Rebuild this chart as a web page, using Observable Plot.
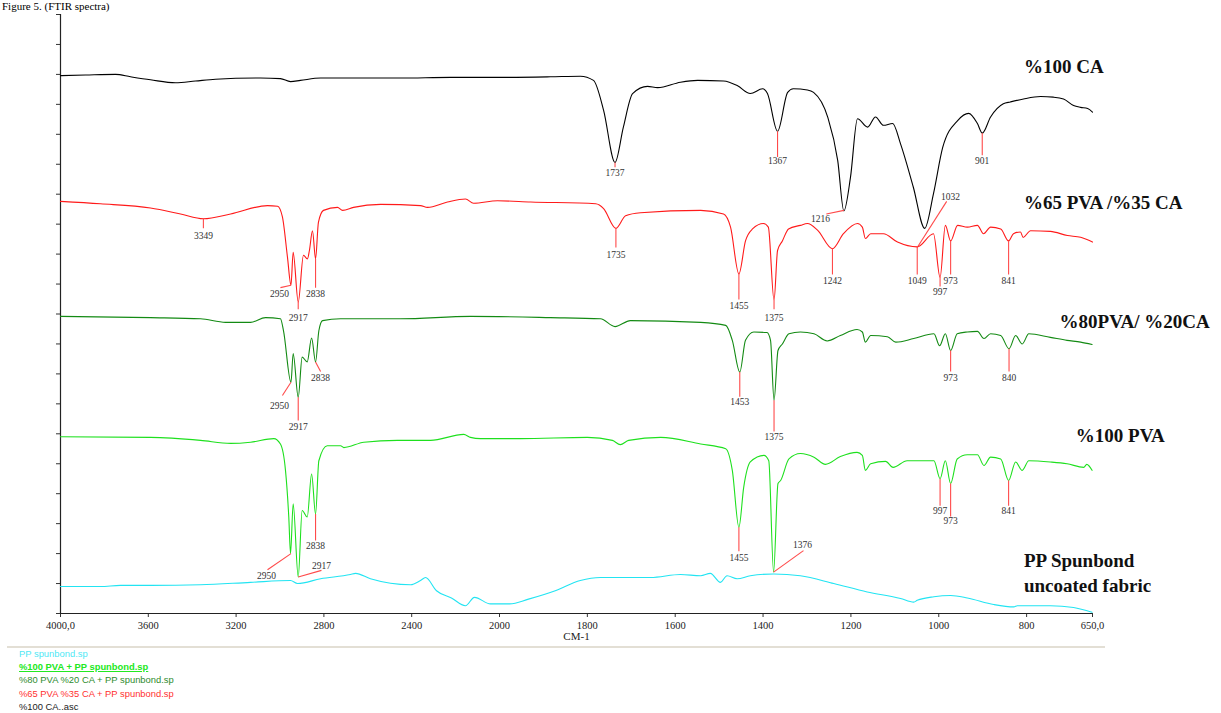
<!DOCTYPE html>
<html>
<head>
<meta charset="utf-8">
<script src="https://cdn.jsdelivr.net/npm/d3@7"></script>
<script src="https://cdn.jsdelivr.net/npm/@observablehq/plot@0.6"></script>
<style>
  html, body { margin: 0; padding: 0; background: #ffffff; }
  #wrap { position: relative; width: 1221px; height: 713px; overflow: hidden; background: #fff; }
  #chart { position: absolute; left: 0; top: 0; }
  #title { position: absolute; left: 2px; top: 0px; font-family: "Liberation Serif", serif; font-size: 11px; line-height: 12px; color: #000; white-space: nowrap; }
  #legendRule { position: absolute; left: 7px; top: 646px; width: 1098px; height: 2px; background: #e3dfd5; }
  #legend { position: absolute; left: 19px; top: 647px; font-family: "Liberation Sans", Arial, sans-serif; font-size: 9.4px; line-height: 13.2px; }
</style>
</head>
<body>
<div id="wrap">
  <div id="chart"></div>
  <div id="title">Figure 5. (FTIR spectra)</div>
  <div id="legendRule"></div>
  <div id="legend"></div>
</div>
<script>
// ---- Spectra (wavenumber cm-1, offset transmittance) ----
const caWn = [4000,3886,3749,3681,3590,3476,3385,3294,3089,2998,2952,2907,2815,2451,2223,2000,1884,1816,1786,1763,1737,1718,1697,1663,1640,1588,1549,1490,1458,1429,1401,1390,1367,1344,1331,1299,1285,1253,1230,1216,1201,1185,1162,1144,1126,1105,1087,1058,1032,1012,991,957,932,912,901,882,853,837,807,768,739,716,693,677,661,650];
const caT = [89.8,89.9,90.0,89.6,89.1,88.6,88.9,89.2,89.4,89.3,88.8,89.0,89.4,89.4,89.5,89.5,89.6,89.7,89.0,84.0,75.3,81.2,86.8,88.0,87.8,88.7,89.0,88.9,88.1,86.8,87.6,86.8,80.5,87.0,87.6,87.4,87.0,82.9,75.6,67.2,72.8,82.6,81.2,82.9,81.5,81.8,78.4,71.2,64.3,70.1,77.8,82.3,83.5,81.8,80.2,82.9,85.1,85.4,85.9,86.3,86.2,85.9,84.8,84.5,84.3,83.7];

const pva65Wn = [4000,3818,3590,3453,3349,3225,3057,3011,2989,2966,2950,2940,2917,2893,2875,2866,2852,2838,2825,2802,2738,2715,2665,2542,2360,2328,2237,2155,2118,2009,1929,1781,1763,1735,1713,1679,1542,1490,1474,1455,1440,1424,1399,1388,1375,1367,1356,1342,1315,1299,1276,1242,1217,1185,1174,1167,1155,1126,1094,1049,1012,997,985,973,957,935,912,898,882,859,841,830,814,808,791,746,707,677,650];
const pva65T = [68.8,68.4,67.7,66.7,65.9,66.7,68.1,68.0,66.2,59.5,54.8,60.3,52.0,59.8,59.2,60.6,63.9,59.2,65.3,67.3,67.8,67.3,67.8,68.3,68.1,67.8,68.7,69.2,68.5,68.9,68.7,68.4,67.6,64.3,66.4,66.9,67.3,66.7,64.5,56.7,62.2,64.2,65.1,64.5,52.3,60.6,62.2,64.2,64.8,65.1,64.0,60.9,63.4,65.1,64.5,62.6,63.4,63.4,62.0,61.2,63.4,56.1,64.8,62.2,64.8,64.5,64.8,63.4,64.5,64.2,62.2,63.4,63.7,62.8,63.9,63.8,63.1,62.8,62.0];

const pva80Wn = [4000,3590,3362,3248,3134,3066,2998,2984,2950,2940,2917,2899,2876,2856,2838,2823,2806,2724,2451,2132,1884,1770,1737,1702,1542,1485,1470,1453,1440,1421,1391,1383,1375,1366,1356,1341,1315,1284,1254,1224,1186,1174,1167,1155,1117,1098,1057,1011,998,985,973,958,935,912,897,882,859,840,825,810,795,746,708,677,651];
const pva80T = [49.6,49.4,49.2,48.6,48.6,49.4,49.2,47.2,38.6,43.4,36.1,42.8,42.0,46.0,42.0,47.2,48.9,49.2,49.2,49.6,49.4,49.2,47.9,48.9,48.6,48.1,45.6,40.3,45.6,47.0,46.9,45.6,35.6,43.9,45.0,46.7,47.0,46.7,45.5,46.4,47.4,47.0,45.3,46.4,46.2,45.3,45.9,46.7,44.7,46.7,43.9,46.7,47.0,47.1,45.9,46.7,46.4,44.2,46.4,45.0,46.7,46.1,45.6,45.3,44.9];

const pvaWn = [4000,3590,3362,3225,3134,3028,2998,2975,2960,2952,2940,2917,2899,2876,2856,2838,2823,2785,2724,2709,2618,2466,2314,2163,2132,2087,1952,1800,1743,1725,1706,1633,1542,1485,1470,1455,1444,1429,1398,1387,1376,1366,1360,1341,1315,1284,1258,1224,1186,1174,1167,1155,1121,1104,1072,1011,997,985,973,958,935,912,897,882,859,841,825,810,795,746,708,670,663,651];
const pvaT = [29.5,29.4,28.9,28.4,28.6,29.2,28.3,23.9,16.1,10.0,18.3,6.1,17.2,16.1,23.3,16.6,25.5,28.0,28.0,27.7,28.6,28.9,28.9,29.9,29.4,29.2,29.2,29.4,28.9,28.2,28.9,29.4,28.3,27.5,23.9,14.4,21.1,25.3,26.4,25.5,6.9,21.7,22.2,25.8,26.7,26.1,24.9,26.2,26.9,26.4,23.9,25.0,25.4,24.4,25.5,25.5,22.5,25.5,21.7,25.8,26.5,26.5,24.7,26.1,25.8,22.2,25.3,23.9,25.5,25.3,25.0,24.4,24.9,23.9];

const ppWn = [4000,3818,3727,3590,3362,3134,2952,2920,2815,2679,2656,2588,2405,2360,2337,2287,2219,2155,2114,2041,1977,1934,1873,1816,1770,1656,1588,1542,1520,1497,1482,1459,1429,1376,1315,1239,1163,1087,1057,1049,1011,973,935,875,829,821,746,693,651];
const ppT = [4.5,4.5,4.7,4.7,4.8,5.2,5.5,5.0,5.8,6.5,6.7,5.8,4.8,5.5,6.0,3.8,2.6,1.3,2.7,1.6,1.6,2.4,3.8,5.5,6.0,6.0,6.5,6.3,6.7,5.2,6.3,5.8,6.3,6.6,6.3,5.0,3.6,2.5,1.9,2.2,2.8,3.0,2.6,1.5,1.1,1.3,1.3,1.0,0.2];

// ---- Series names / colours ----
const seriesKeys = ["ca", "pva65", "pva80", "pva", "pp"];
const seriesColors = ["#000000", "#ff1a1a", "#138a13", "#1ee01e", "#22e4f2"];
const seriesTitles = ["%100 CA", "%65 PVA /%35 CA", "%80PVA/ %20CA", "%100 PVA", "PP Spunbond", "uncoated fabric"];
const titleX = [806, 806, 725, 688, 806, 806];
const titleY = [91.3, 68.5, 48.6, 29.7, 8.8, 4.6];

// ---- Legend (file names) ----
const legendNames = ["PP spunbond.sp", "%100 PVA + PP spunbond.sp", "%80 PVA %20 CA + PP spunbond.sp", "%65 PVA  %35 CA + PP spunbond.sp", "%100 CA..asc"];
const legendColors = ["#4fe8f5", "#22e822", "#2e8b2e", "#ff3030", "#222222"];

// ---- Axis ticks ----
const xTicks = [4000, 3600, 3200, 2800, 2400, 2000, 1800, 1600, 1400, 1200, 1000, 800, 650];
const yTicks = d3.range(0, 101, 5);

// ---- Peak annotations: label, leader start (x1,y1), leader end (x2,y2), text (tx,ty) ----
const peakLabel = ["1737","1367","1216","1032","901",
  "3349","2950","2917","2838","1735","1455","1375","1242","1049","997","973","841",
  "2950","2917","2838","1453","1375","973","840",
  "2950","2917","2838","1455","1376","997","973","841"];
const peakX1 = [1737,1367,1216,1049,901, 3349,2950,2917,2838,1735,1455,1375,1242,1049,997,973,841, 2950,2917,2838,1453,1375,973,840, 2950,2917,2838,1455,1376,997,973,841];
const peakY1 = [75.3,80.5,67.3,61.1,80.2, 65.9,54.8,52.0,59.2,64.3,56.7,52.3,60.9,61.2,56.1,62.2,62.2, 38.6,36.1,42.0,40.3,35.6,43.9,44.2, 10.0,6.1,16.6,14.4,6.9,22.5,21.7,22.2];
const peakX2 = [1737,1367,1256,982,901, 3349,2998,2917,2838,1735,1455,1375,1242,1049,997,973,841, 2989,2917,2815,1453,1375,973,840, 3057,2811,2838,1455,1308,997,973,841];
const peakY2 = [74.5,76.2,66.7,68.8,76.5, 64.3,54.4,50.8,54.4,61.1,52.4,50.8,56.6,56.6,54.6,56.6,56.6, 36.4,32.2,40.4,36.2,30.4,40.4,40.4, 7.3,7.2,12.2,10.4,10.5,18.0,16.2,18.0];
const peakTX = [1737,1367,1269,973,901, 3349,3002,2917,2838,1735,1455,1375,1242,1049,997,973,841, 3002,2917,2815,1453,1375,973,840, 3061,2811,2838,1455,1310,997,973,841];
const peakTY = [73.5,75.6,65.9,69.6,75.6, 63.0,53.4,49.4,53.4,59.9,51.4,49.4,55.6,55.6,53.6,55.6,55.6, 34.7,31.2,39.4,35.4,29.4,39.4,39.4, 6.2,8.0,11.2,9.2,11.5,17.2,15.4,17.2];

// ---- Build tables ----
const seriesWn = [caWn, pva65Wn, pva80Wn, pvaWn, ppWn];
const seriesT = [caT, pva65T, pva80T, pvaT, ppT];
const rows = seriesKeys.flatMap((k, i) => seriesWn[i].map((w, j) => ({key: k, wn: w, t: seriesT[i][j]})));
const annots = peakLabel.map((l, i) => ({label: l, x1: peakX1[i], y1: peakY1[i], x2: peakX2[i], y2: peakY2[i], tx: peakTX[i], ty: peakTY[i]}));
const titles = seriesTitles.map((t, i) => ({t, x: titleX[i], y: titleY[i]}));

const fmt = d => (d === 4000 || d === 650) ? d + ",0" : String(d);

const chart = Plot.plot({
  width: 1221,
  height: 645,
  marginLeft: 60,
  marginRight: 129,
  marginTop: 14,
  marginBottom: 32,
  style: {fontFamily: "'Liberation Serif', 'Times New Roman', serif", fontSize: "10.5px", background: "#fff", color: "#000", overflow: "visible"},
  x: {type: "linear", domain: [4000, 2000, 650], range: [60, 499, 1092], label: null},
  y: {domain: [0, 100], label: null},
  marks: [
    Plot.axisY({ticks: yTicks, tickSize: 4, tickFormat: () => "", label: null, stroke: "#333"}),
    Plot.axisX({ticks: xTicks, tickSize: 4, tickPadding: 4, tickFormat: fmt, label: null, stroke: "#333", fill: "#222"}),
    Plot.ruleX([4000], {x: d => d, y1: 0, y2: 100, stroke: "#222", strokeWidth: 1.2}),
    Plot.ruleY([0], {stroke: "#222", strokeWidth: 1.2}),
    ...seriesKeys.slice().reverse().map((k) => Plot.line(rows.filter(r => r.key === k), {
      x: "wn", y: "t", stroke: seriesColors[seriesKeys.indexOf(k)], strokeWidth: 1.1, curve: "monotone-x"
    })),
    Plot.link(annots, {x1: "x1", y1: "y1", x2: "x2", y2: "y2", stroke: "#ff4a4a", strokeWidth: 1.1}),
    Plot.text(annots, {x: "tx", y: "ty", text: "label", fontSize: 9.5, fill: "#333"}),
    Plot.text(titles, {x: "x", y: "y", text: "t", textAnchor: "start", fontSize: 19, fontWeight: "bold", fill: "#111"}),
    Plot.text(["CM-1"], {frameAnchor: "bottom", dy: 26, fontSize: 11, fill: "#222"})
  ]
});
document.getElementById("chart").appendChild(chart);

// ---- Legend ----
const legend = d3.select("#legend");
legendNames.forEach((n, i) => {
  const d = legend.append("div").text(n).style("color", legendColors[i]);
  if (i === 1) d.style("font-weight", "bold").style("text-decoration", "underline");
});
</script>
</body>
</html>
